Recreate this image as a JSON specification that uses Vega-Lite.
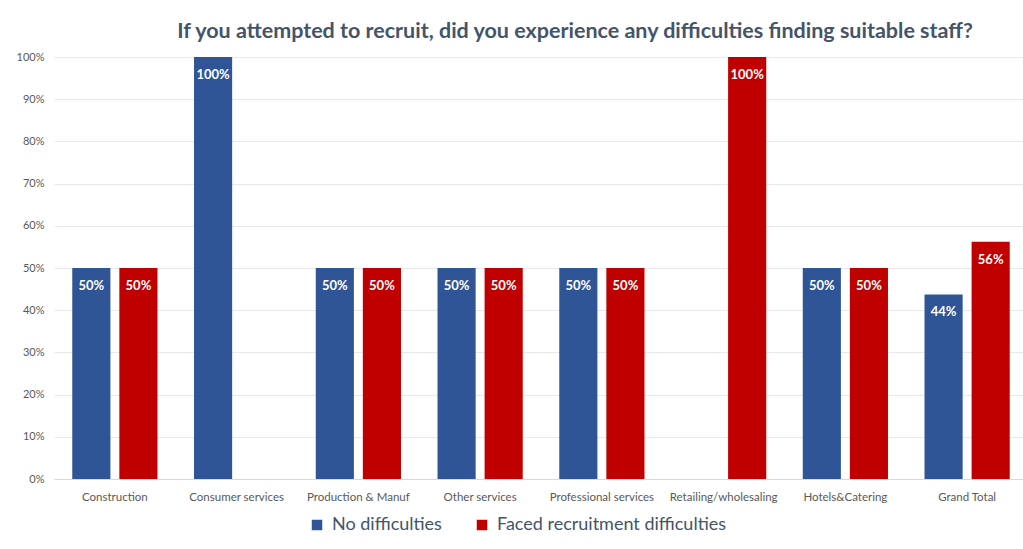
{
  "$schema": "https://vega.github.io/schema/vega-lite/v6.json",
  "width": 974,
  "height": 422,
  "autosize": "none",
  "padding": {"left": 54, "top": 57, "right": 0, "bottom": 70},
  "background": "white",
  "title": {
    "text": "If you attempted to recruit, did you experience any difficulties finding suitable staff?",
    "font": "Lato",
    "fontSize": 21.5,
    "fontWeight": "bold",
    "color": "#44546A",
    "anchor": "middle",
    "dx": 34,
    "offset": 9
  },
  "data": {
    "values": [
      {"category": "Construction", "series": "No difficulties", "value": 0.5},
      {"category": "Construction", "series": "Faced recruitment difficulties", "value": 0.5},
      {"category": "Consumer services", "series": "No difficulties", "value": 1.0},
      {"category": "Consumer services", "series": "Faced recruitment difficulties", "value": 0},
      {"category": "Production & Manuf", "series": "No difficulties", "value": 0.5},
      {"category": "Production & Manuf", "series": "Faced recruitment difficulties", "value": 0.5},
      {"category": "Other services", "series": "No difficulties", "value": 0.5},
      {"category": "Other services", "series": "Faced recruitment difficulties", "value": 0.5},
      {"category": "Professional services", "series": "No difficulties", "value": 0.5},
      {"category": "Professional services", "series": "Faced recruitment difficulties", "value": 0.5},
      {"category": "Retailing/wholesaling", "series": "No difficulties", "value": 0},
      {"category": "Retailing/wholesaling", "series": "Faced recruitment difficulties", "value": 1.0},
      {"category": "Hotels&Catering", "series": "No difficulties", "value": 0.5},
      {"category": "Hotels&Catering", "series": "Faced recruitment difficulties", "value": 0.5},
      {"category": "Grand Total", "series": "No difficulties", "value": 0.4375},
      {"category": "Grand Total", "series": "Faced recruitment difficulties", "value": 0.5625}
    ]
  },
  "encoding": {
    "x": {
      "field": "category",
      "type": "nominal",
      "sort": null,
      "scale": {"paddingInner": 0.3, "paddingOuter": 0.15},
      "axis": {
        "title": null,
        "labelAngle": 0,
        "labelFont": "Lato",
        "labelFontSize": 11.5,
        "labelColor": "#595959",
        "labelPadding": 12,
        "ticks": false,
        "domainColor": "#D9D9D9",
        "domainWidth": 1
      }
    },
    "xOffset": {
      "field": "series",
      "type": "nominal",
      "sort": ["No difficulties", "Faced recruitment difficulties"],
      "scale": {"paddingInner": 0.19}
    },
    "y": {
      "field": "value",
      "type": "quantitative",
      "scale": {"domain": [0, 1], "nice": false},
      "axis": {
        "title": null,
        "format": ".0%",
        "values": [0, 0.1, 0.2, 0.3, 0.4, 0.5, 0.6, 0.7, 0.8, 0.9, 1.0],
        "labelOverlap": false,
        "labelFont": "Lato",
        "labelFontSize": 11,
        "labelColor": "#595959",
        "labelPadding": 10,
        "ticks": false,
        "domain": false,
        "gridColor": "#E8E8EE",
        "gridWidth": 1
      }
    }
  },
  "layer": [
    {
      "mark": {"type": "bar"},
      "encoding": {
        "color": {
          "field": "series",
          "type": "nominal",
          "sort": ["No difficulties", "Faced recruitment difficulties"],
          "scale": {
            "domain": ["No difficulties", "Faced recruitment difficulties"],
            "range": ["#2F5597", "#C00000"]
          },
          "legend": {
            "title": null,
            "orient": "none",
            "direction": "horizontal",
            "legendX": 254,
            "legendY": 459,
            "symbolType": "square",
            "symbolSize": 110,
            "symbolStrokeWidth": 0,
            "labelFont": "Lato",
            "labelFontSize": 18,
            "labelColor": "#44546A",
            "labelLimit": 400,
            "columnPadding": 31,
            "labelOffset": 6
          }
        }
      }
    },
    {
      "transform": [{"filter": "datum.value > 0"}],
      "mark": {
        "type": "text",
        "baseline": "middle",
        "dy": 18,
        "font": "Lato",
        "fontSize": 13,
        "fontWeight": "bold",
        "color": "white"
      },
      "encoding": {
        "text": {"field": "value", "type": "quantitative", "format": ".0%"}
      }
    }
  ],
  "config": {
    "view": {"stroke": null}
  }
}
